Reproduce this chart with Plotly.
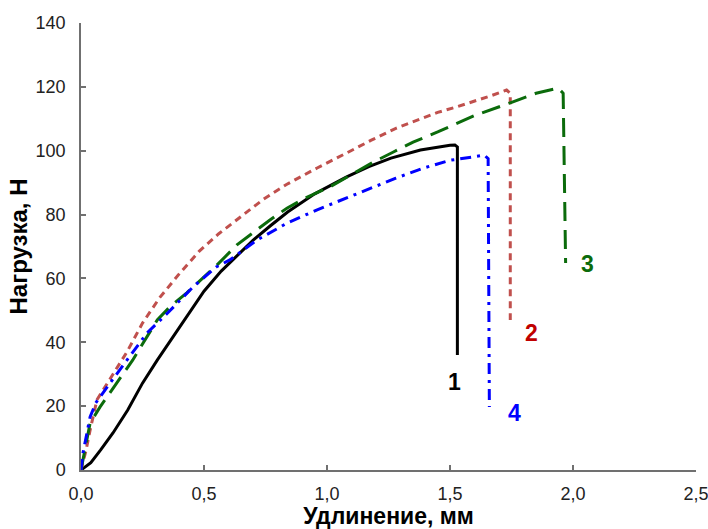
import plotly.graph_objects as go

# Load–elongation curves for four samples
x1 = [0, 0.04, 0.08, 0.13, 0.19, 0.25, 0.31, 0.40, 0.50, 0.57, 0.64, 0.70, 0.77, 0.84, 0.95, 1.08, 1.17, 1.26, 1.38, 1.45, 1.50, 1.52, 1.53, 1.53]
y1 = [0, 2.3, 6.3, 11.6, 18.8, 27.2, 34.4, 44.8, 56.0, 62.3, 67.6, 72.0, 76.5, 80.8, 86.5, 91.8, 95.0, 97.7, 100.2, 101.2, 101.7, 101.8, 101.2, 36.0]

x2 = [0, 0.02, 0.037, 0.065, 0.118, 0.187, 0.25, 0.32, 0.40, 0.48, 0.56, 0.646, 0.74, 0.837, 0.96, 1.08, 1.18, 1.28, 1.37, 1.45, 1.53, 1.60, 1.67, 1.73, 1.745, 1.745]
y2 = [0, 6.0, 12.5, 22.0, 28.5, 37.0, 46.0, 54.0, 61.5, 68.5, 74.0, 79.2, 84.7, 89.5, 94.6, 99.3, 103.3, 107.0, 109.6, 112.0, 113.8, 115.5, 117.3, 119.0, 118.0, 47.0]

x3 = [0, 0.015, 0.037, 0.077, 0.146, 0.21, 0.31, 0.36, 0.43, 0.50, 0.55, 0.634, 0.768, 0.837, 0.92, 1.01, 1.10, 1.19, 1.27, 1.35, 1.45, 1.60, 1.745, 1.85, 1.94, 1.96, 1.97]
y3 = [0, 6.0, 14.7, 19.7, 27.2, 34.4, 47.0, 51.0, 55.5, 60.5, 64.0, 70.5, 78.3, 82.0, 85.5, 88.6, 92.6, 96.5, 99.6, 102.7, 105.9, 111.0, 115.0, 118.0, 119.6, 118.0, 64.8]

x4 = [0, 0.008, 0.037, 0.06, 0.118, 0.187, 0.268, 0.35, 0.455, 0.55, 0.605, 0.715, 0.837, 0.96, 1.08, 1.18, 1.28, 1.39, 1.50, 1.64, 1.655, 1.66]
y4 = [0, 5.3, 16.6, 21.0, 27.2, 34.4, 42.9, 49.0, 57.3, 63.6, 65.8, 72.0, 77.3, 81.5, 85.2, 88.4, 91.4, 94.5, 97.0, 98.6, 97.5, 19.7]

curve_labels = ["1", "2", "3", "4"]
label_x = [1.52, 1.833, 2.06, 1.764]
label_y = [27.6, 42.9, 64.5, 18.0]

x_ticks = [0, 0.5, 1.0, 1.5, 2.0, 2.5]
x_tick_text = ["0,0", "0,5", "1,0", "1,5", "2,0", "2,5"]
y_ticks = [0, 20, 40, 60, 80, 100, 120, 140]

colors = ["#000000", "#C0504D", "#0B6B0B", "#0000FF"]
dashes = ["solid", "7px,5px", "19px,9px", "11px,6px,3px,6px"]
label_colors = ["#000000", "#C00000", "#0B6B0B", "#0000FF"]

FONT = "Liberation Sans, Arial"

fig = go.Figure()
for xs, ys, c, d in zip([x1, x2, x3, x4], [y1, y2, y3, y4], colors, dashes):
    fig.add_trace(go.Scatter(x=xs, y=ys, mode="lines",
                             line=dict(color=c, width=3, dash=d),
                             showlegend=False, hoverinfo="skip"))

for t, lx, ly, c in zip(curve_labels, label_x, label_y, label_colors):
    fig.add_annotation(x=lx, y=ly, text=f"<b>{t}</b>", showarrow=False,
                       font=dict(family=FONT, size=23, color=c))

axis_common = dict(showgrid=False, zeroline=False, showline=True, automargin=False,
                   linecolor="#707070", linewidth=1.5,
                   ticks="inside", ticklen=5, tickwidth=1.5, tickcolor="#707070",
                   ticklabeloverflow="allow",
                   tickfont=dict(family=FONT, size=18, color="#222222"))

fig.update_xaxes(range=[0, 2.5], tickvals=x_ticks, ticktext=x_tick_text,
                 ticklabelstandoff=7,
                 title=dict(text="<b>Удлинение, мм</b>", standoff=2,
                            font=dict(family=FONT, size=23, color="#000000")),
                 **axis_common)
fig.update_yaxes(range=[0, 140], tickvals=y_ticks,
                 ticklabelstandoff=10,
                 title=dict(text="<b>Нагрузка, Н</b>", standoff=1,
                            font=dict(family=FONT, size=24, color="#000000")),
                 **axis_common)

fig.update_layout(width=708, height=529, margin=dict(l=81, r=12, t=23, b=59),
                  plot_bgcolor="white", paper_bgcolor="white")

fig.write_html("out.html")
